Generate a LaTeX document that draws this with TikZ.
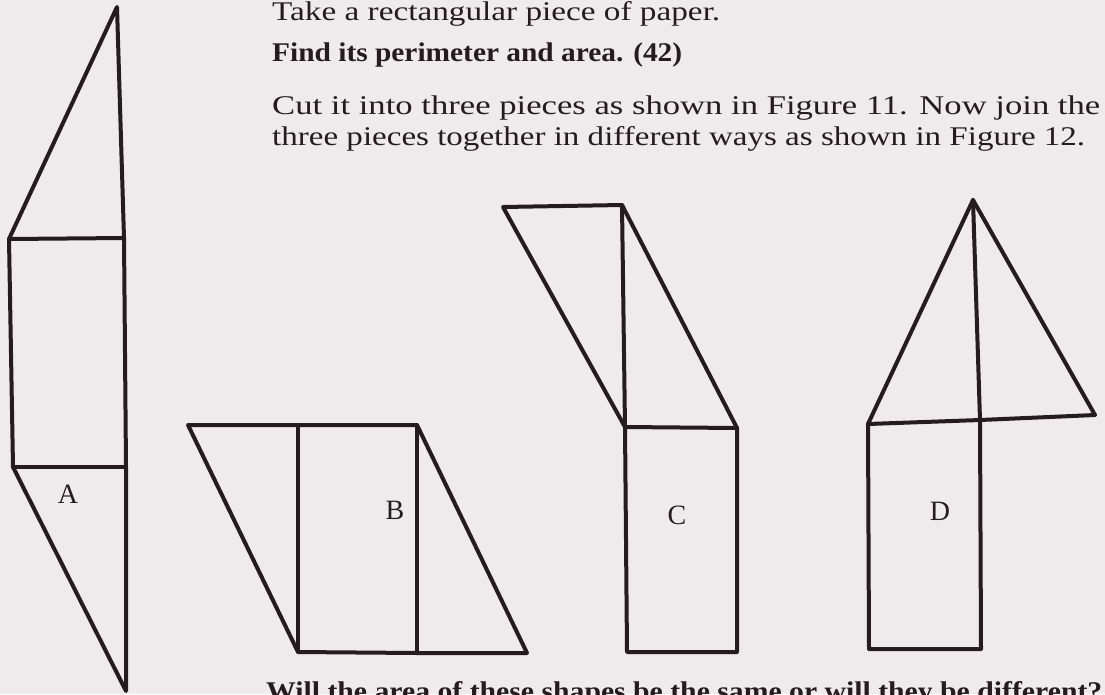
\documentclass[tikz,border=0pt]{standalone}
\usepackage{fontspec}
\usepackage{graphicx}
\setmainfont{Liberation Serif}
\definecolor{paper}{RGB}{239,235,236}
\definecolor{ink}{RGB}{36,28,30}
\tikzset{
  piece/.style={draw=ink, line width=4pt, line join=round, line cap=round},
  txt/.style={anchor=base west, inner sep=0pt, text=ink, font=\fontsize{27}{31}\selectfont},
  lbl/.style={anchor=center, inner sep=0pt, text=ink, font=\fontsize{28}{32}\selectfont}
}
\begin{document}
\begin{tikzpicture}[x=1pt,y=-1pt]
\useasboundingbox (0,0) rectangle (1105,694);
\fill[paper] (0,0) rectangle (1105,694);
\clip (0,0) rectangle (1105,694);
% text
\node[txt] (t1) at (272,20) {\resizebox{448pt}{\height}{Take a rectangular piece of paper.}};
\node[txt] (t2) at (272,61) {\resizebox{410pt}{\height}{\bfseries Find its perimeter and area. (42)}};
\node[txt] (t3) at (272,114) {\resizebox{828pt}{\height}{Cut it into three pieces as shown in Figure 11. Now join the}};
\node[txt] (t4) at (272,145) {\resizebox{813pt}{\height}{three pieces together in different ways as shown in Figure 12.}};
\node[txt] (t5) at (266,700) {\resizebox{836pt}{\height}{\bfseries Will the area of these shapes be the same or will they be different?}};
% shape A
\coordinate (a1) at (117,7);
\coordinate (a2) at (9,239);
\coordinate (a3) at (124,238);
\coordinate (a4) at (13,467);
\coordinate (a5) at (126,467);
\coordinate (a6) at (126,691);
\draw[piece] (a1) -- (a3) -- (a5) -- (a6) -- (a4) -- (a2) -- cycle;
\draw[piece] (a2) -- (a3);
\draw[piece] (a4) -- (a5);
\node[lbl] (la) at (68,494) {A};
% shape B
\coordinate (b1) at (188,425);
\coordinate (b2) at (298,425);
\coordinate (b3) at (417,425);
\coordinate (b4) at (298,652);
\coordinate (b5) at (417,653);
\coordinate (b6) at (527,653);
\draw[piece] (b1) -- (b2) -- (b3) -- (b6) -- (b5) -- (b4) -- cycle;
\draw[piece] (b2) -- (b4);
\draw[piece] (b3) -- (b5);
\node[lbl] (lb) at (395,510) {B};
% shape C
\coordinate (c1) at (503,207);
\coordinate (c2) at (622,205);
\coordinate (c3) at (625,427);
\coordinate (c4) at (737,428);
\coordinate (c5) at (627,652);
\coordinate (c6) at (737,652);
\draw[piece] (c1) -- (c2) -- (c4) -- (c6) -- (c5) -- (c3) -- cycle;
\draw[piece] (c2) -- (c3);
\draw[piece] (c3) -- (c4);
\node[lbl] (lc) at (677,515) {C};
% shape D
\coordinate (d1) at (973,200);
\coordinate (d2) at (868,424);
\coordinate (d3) at (1095,415);
\coordinate (d4) at (980,420);
\coordinate (d5) at (869,649);
\coordinate (d6) at (981,649);
\draw[piece] (d1) -- (d3) -- (d4) -- (d6) -- (d5) -- (d2) -- cycle;
\draw[piece] (d2) -- (d4);
\draw[piece] (d1) -- (d4);
\node[lbl] (ld) at (940,511) {D};
\end{tikzpicture}
\end{document}
